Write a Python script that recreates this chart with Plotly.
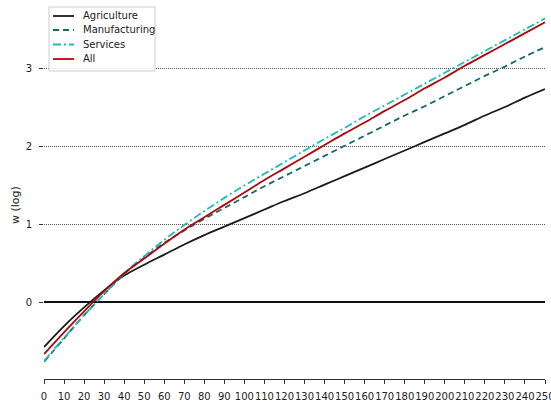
import plotly.graph_objects as go

# Age grid (years of experience) and log-wage profiles by sector
x_vals = [0, 10, 20, 30, 40, 50, 60, 70, 80, 90, 100, 110, 120, 130,
          140, 150, 160, 170, 180, 190, 200, 210, 220, 230, 240, 250]

agriculture = [-0.58, -0.31, -0.07, 0.15, 0.34, 0.48, 0.61, 0.74, 0.86, 0.97,
               1.08, 1.19, 1.30, 1.40, 1.51, 1.62, 1.73, 1.84, 1.95, 2.06,
               2.17, 2.28, 2.40, 2.51, 2.63, 2.74]
manufacturing = [-0.77, -0.47, -0.17, 0.10, 0.36, 0.57, 0.76, 0.92, 1.07, 1.21,
                 1.35, 1.49, 1.62, 1.75, 1.88, 2.01, 2.14, 2.27, 2.40, 2.52,
                 2.65, 2.78, 2.91, 3.03, 3.16, 3.28]
services = [-0.76, -0.46, -0.17, 0.10, 0.37, 0.59, 0.80, 0.99, 1.17, 1.34,
            1.50, 1.65, 1.80, 1.95, 2.10, 2.24, 2.39, 2.53, 2.67, 2.81,
            2.95, 3.09, 3.23, 3.37, 3.51, 3.65]
all_sectors = [-0.67, -0.39, -0.12, 0.14, 0.37, 0.56, 0.75, 0.93, 1.09, 1.25,
               1.41, 1.57, 1.72, 1.87, 2.02, 2.17, 2.31, 2.46, 2.60, 2.75,
               2.89, 3.04, 3.18, 3.32, 3.46, 3.60]

x_ticks = list(range(0, 251, 10))
y_ticks = [0, 1, 2, 3]

series = [
    ("Agriculture", agriculture, "#1a1a1a", "solid"),
    ("Manufacturing", manufacturing, "#176868", "6px,4px"),
    ("Services", services, "#1fbaba", "8px,3px,2px,3px"),
    ("All", all_sectors, "#b00808", "solid"),
]

W, H = 551, 404
ML, MR, MT, MB = 44, 6, 10, 25
PW, PH = W - ML - MR, H - MT - MB


def px_x(p):
    return (p - ML) / PW


def px_y(p):
    return (H - MB - p) / PH


fig = go.Figure()
for name, ys, color, dash in series:
    fig.add_trace(go.Scatter(
        x=x_vals, y=ys, name=name, mode="lines", showlegend=False,
        line=dict(color=color, width=1.8, dash=dash, shape="spline"),
    ))

font_family = "DejaVu Sans"

# Compact legend box drawn in paper coordinates
shapes = [dict(
    type="rect", xref="paper", yref="paper", layer="above",
    x0=px_x(49), x1=px_x(155), y0=px_y(71), y1=px_y(7),
    line=dict(color="#cccccc", width=1), fillcolor="rgba(255,255,255,0.9)",
)]
annotations = []
row_y = [16, 30, 44.5, 59]
for (name, _, color, dash), ry in zip(series, row_y):
    shapes.append(dict(
        type="line", xref="paper", yref="paper", layer="above",
        x0=px_x(53), x1=px_x(74), y0=px_y(ry), y1=px_y(ry),
        line=dict(color=color, width=1.8, dash=dash),
    ))
    annotations.append(dict(
        xref="paper", yref="paper", x=px_x(81), y=px_y(ry),
        xanchor="left", yanchor="middle", showarrow=False,
        text=name, font=dict(family=font_family, size=10, color="#222"),
    ))

# Y-axis title
annotations.append(dict(
    xref="paper", yref="paper", x=px_x(15), y=px_y(205),
    xanchor="center", yanchor="middle", showarrow=False, textangle=-90,
    text="w (log)", font=dict(family=font_family, size=11, color="#222"),
))

fig.update_layout(
    width=W, height=H,
    margin=dict(l=ML, r=MR, t=MT, b=MB),
    paper_bgcolor="white", plot_bgcolor="white",
    font=dict(family=font_family, size=10, color="#222"),
    showlegend=False,
    shapes=shapes,
    annotations=annotations,
    xaxis=dict(
        range=[0, 250], tickvals=x_ticks, ticktext=[str(t) for t in x_ticks],
        showgrid=False, zeroline=False, automargin=False,
        showline=True, linecolor="#333", linewidth=1,
        ticks="outside", ticklen=4, tickcolor="#333",
        tickfont=dict(size=10), tickangle=0,
        ticklabeloverflow="allow", ticklabelstandoff=4,
    ),
    yaxis=dict(
        range=[-0.991, 3.758], tickvals=y_ticks, automargin=False,
        showgrid=True, gridcolor="#555", griddash="1px,1px", gridwidth=1,
        zeroline=True, zerolinecolor="#111", zerolinewidth=1.5,
        showline=False, ticks="outside", ticklen=4, tickcolor="#333",
        tickfont=dict(size=10), ticklabelstandoff=5,
    ),
)

fig.write_html("out.html")
